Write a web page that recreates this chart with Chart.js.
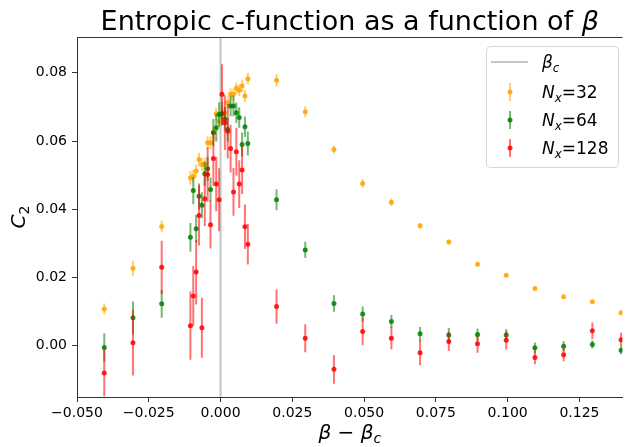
<!DOCTYPE html>
<html lang="en">
<head>
  <meta charset="UTF-8">
  <title>Entropic c-function as a function of beta</title>
  <script src="https://cdn.jsdelivr.net/npm/chart.js"></script>
  <style>
    body {
      margin: 0;
      padding: 0;
      background: #fff;
    }
    #wrap {
      width: 625px;
      height: 447px;
    }
  </style>
</head>
<body>
  <div id="wrap"><canvas id="cfunc" width="625" height="447"></canvas></div>

  <script>
    // beta - beta_c for every measured point
    const dBeta = [-0.0405, -0.0305, -0.0205,
      -0.0105, -0.0095, -0.0085, -0.0075, -0.0065, -0.0055, -0.0045, -0.0035, -0.0025, -0.0015, -0.0005,
      0.0005, 0.0015, 0.0025, 0.0035, 0.0045, 0.0055, 0.0065, 0.0075, 0.0085, 0.0095,
      0.0195, 0.0295, 0.0395, 0.0495, 0.0595, 0.0695, 0.0795, 0.0895, 0.0995, 0.1095, 0.1195, 0.1295, 0.1395];

    const c32 = [0.0108, 0.0227, 0.0350,
      0.0492, 0.0497, 0.0512, 0.0546, 0.0531, 0.0533, 0.0595, 0.0595, 0.0625, 0.0680, 0.0659,
      0.0683, 0.0683, 0.0713, 0.0737, 0.0737, 0.0755, 0.0749, 0.0762, 0.0732, 0.0783,
      0.0778, 0.0686, 0.0575, 0.0476, 0.0421, 0.0352, 0.0304, 0.0239, 0.0207, 0.0168, 0.0144, 0.0129, 0.0097];
    const err32 = [0.0016, 0.0022, 0.0017,
      0.0020, 0.0019, 0.0019, 0.0020, 0.0019, 0.0018, 0.0019, 0.0019, 0.0018, 0.0018, 0.0018,
      0.0018, 0.0018, 0.0018, 0.0018, 0.0017, 0.0017, 0.0017, 0.0018, 0.0018, 0.0017,
      0.0018, 0.0016, 0.0012, 0.0013, 0.0011, 0.0008, 0.0007, 0.0006, 0.0005, 0.0005, 0.0005, 0.0004, 0.0004];

    const c64 = [-0.0005, 0.0082, 0.0123,
      0.0318, 0.0455, 0.0343, 0.0438, 0.0412, 0.0504, 0.0519, 0.0458, 0.0625, 0.0639, 0.0678,
      0.0680, 0.0665, 0.0634, 0.0703, 0.0703, 0.0683, 0.0669, 0.0590, 0.0642, 0.0593,
      0.0428, 0.0281, 0.0124, 0.0093, 0.0071, 0.0035, 0.0032, 0.0033, 0.0032, -0.0006, -0.0001, 0.0004, -0.0013];
    const err64 = [0.0042, 0.0048, 0.0041,
      0.0042, 0.0040, 0.0040, 0.0038, 0.0038, 0.0036, 0.0035, 0.0035, 0.0040, 0.0040, 0.0035,
      0.0035, 0.0035, 0.0035, 0.0030, 0.0030, 0.0030, 0.0030, 0.0035, 0.0030, 0.0035,
      0.0031, 0.0024, 0.0024, 0.0022, 0.0019, 0.0020, 0.0020, 0.0018, 0.0017, 0.0016, 0.0015, 0.0012, 0.0012];

    const c128 = [-0.0080, 0.0009, 0.0230,
      0.0059, 0.0146, 0.0216, 0.0382, 0.0053, 0.0431, 0.0502, 0.0355, 0.0549, 0.0474, 0.0428,
      0.0737, 0.0654, 0.0629, 0.0578, 0.0451, 0.0569, 0.0474, 0.0515, 0.0349, 0.0298,
      0.0115, 0.0022, -0.0069, 0.0042, 0.0022, -0.0020, 0.0013, 0.0006, 0.0016, -0.0034, -0.0026, 0.0044, 0.0018];
    const err128 = [0.0068, 0.0096, 0.0078,
      0.0100, 0.0088, 0.0095, 0.0088, 0.0088, 0.0080, 0.0080, 0.0070, 0.0080, 0.0080, 0.0092,
      0.0088, 0.0080, 0.0080, 0.0070, 0.0070, 0.0070, 0.0070, 0.0070, 0.0065, 0.0060,
      0.0050, 0.0041, 0.0042, 0.0040, 0.0033, 0.0037, 0.0028, 0.0026, 0.0027, 0.0020, 0.0019, 0.0024, 0.0020];

    const betaC = 0;
    const xTicks = [-0.05, -0.025, 0, 0.025, 0.05, 0.075, 0.1, 0.125];
    const yTicks = [0, 0.02, 0.04, 0.06, 0.08];

    const FONT = "'DejaVu Sans', sans-serif";

    // draws a run of text pieces, some italic, some as subscripts
    const richWidth = (ctx, parts, size) => {
      let w = 0;
      parts.forEach((p) => {
        const s = p.sub ? size * 0.7 : size;
        ctx.font = (p.it ? "italic " : "") + s + "px " + FONT;
        w += ctx.measureText(p.t).width;
      });
      return w;
    };

    const drawRich = (ctx, parts, x, y, size, align) => {
      let cx = x;
      if (align === "center") cx = x - richWidth(ctx, parts, size) / 2;
      ctx.textBaseline = "alphabetic";
      ctx.textAlign = "left";
      parts.forEach((p) => {
        const s = p.sub ? size * 0.7 : size;
        ctx.font = (p.it ? "italic " : "") + s + "px " + FONT;
        ctx.fillText(p.t, cx, p.sub ? y + size * 0.22 : y);
        cx += ctx.measureText(p.t).width;
      });
    };

    const errorBars = {
      id: "errorBars",
      beforeDatasetDraw(chart, args) {
        const ds = chart.data.datasets[args.index];
        if (!ds.err) return;
        const { ctx, chartArea } = chart;
        const y = chart.scales.y;
        ctx.save();
        ctx.beginPath();
        ctx.rect(chartArea.left, chartArea.top, chartArea.right - chartArea.left, chartArea.bottom - chartArea.top);
        ctx.clip();
        ctx.strokeStyle = ds.barColor;
        ctx.lineWidth = 2;
        args.meta.data.forEach((pt, i) => {
          const v = ds.data[i].y;
          ctx.beginPath();
          ctx.moveTo(pt.x, y.getPixelForValue(v - ds.err[i]));
          ctx.lineTo(pt.x, y.getPixelForValue(v + ds.err[i]));
          ctx.stroke();
        });
        ctx.restore();
      },
    };

    const decorations = {
      id: "decorations",
      beforeDatasetsDraw(chart) {
        const { ctx, chartArea } = chart;
        const px = chart.scales.x.getPixelForValue(betaC);
        ctx.save();
        ctx.strokeStyle = "rgba(128,128,128,0.45)";
        ctx.lineWidth = 2;
        ctx.beginPath();
        ctx.moveTo(px, chartArea.top);
        ctx.lineTo(px, chartArea.bottom);
        ctx.stroke();
        ctx.restore();
      },
      afterDraw(chart) {
        const { ctx, chartArea } = chart;
        ctx.save();
        // top spine
        ctx.strokeStyle = "#333";
        ctx.lineWidth = 1;
        ctx.beginPath();
        ctx.moveTo(chartArea.left, chartArea.top + 0.5);
        ctx.lineTo(chartArea.right, chartArea.top + 0.5);
        ctx.stroke();

        ctx.fillStyle = "#000";
        const mid = (chartArea.left + chartArea.right) / 2;
        drawRich(ctx, [{ t: "Entropic c-function as a function of " }, { t: "β", it: true }], mid, 30, 27, "center");
        drawRich(ctx, [{ t: "β", it: true }, { t: " − " }, { t: "β", it: true }, { t: "c", it: true, sub: true }], mid, 439, 20, "center");

        ctx.save();
        ctx.translate(25, (chartArea.top + chartArea.bottom) / 2);
        ctx.rotate(-Math.PI / 2);
        drawRich(ctx, [{ t: "C", it: true }, { t: "2", sub: true }], 0, 0, 20, "center");
        ctx.restore();

        // legend
        const lx = 486, ly = 46, lw = 132, lh = 121;
        ctx.fillStyle = "rgba(255,255,255,0.85)";
        ctx.strokeStyle = "#d6d6d6";
        ctx.beginPath();
        ctx.roundRect(lx + 0.5, ly + 0.5, lw, lh, 4);
        ctx.fill();
        ctx.stroke();

        ctx.strokeStyle = "rgba(128,128,128,0.45)";
        ctx.lineWidth = 2;
        ctx.beginPath();
        ctx.moveTo(lx + 5, 62);
        ctx.lineTo(lx + 42, 62);
        ctx.stroke();
        ctx.fillStyle = "#000";
        drawRich(ctx, [{ t: "β", it: true }, { t: "c", it: true, sub: true }], lx + 56, 68, 17, "left");

        chart.data.datasets.slice().reverse().forEach((ds, k) => {
          const cy = 92 + k * 28;
          ctx.strokeStyle = ds.barColor;
          ctx.lineWidth = 2;
          ctx.beginPath();
          ctx.moveTo(lx + 24, cy - 9);
          ctx.lineTo(lx + 24, cy + 9);
          ctx.stroke();
          ctx.fillStyle = ds.backgroundColor;
          ctx.beginPath();
          ctx.arc(lx + 24, cy, 2.5, 0, Math.PI * 2);
          ctx.fill();
          ctx.fillStyle = "#000";
          drawRich(ctx, [{ t: "N", it: true }, { t: "x", it: true, sub: true }, { t: "=" + ds.label }], lx + 56, cy + 6, 17, "left");
        });
        ctx.restore();
      },
    };

    const series = (vals) => dBeta.map((x, i) => ({ x, y: vals[i] }));

    const axisCommon = {
      border: { display: true, color: "#333", width: 1 },
      grid: { display: true, drawOnChartArea: false, drawTicks: true, tickLength: 5, color: "#333" },
    };

    new Chart(document.getElementById("cfunc"), {
      type: "scatter",
      data: {
        datasets: [
          { label: "128", data: series(c128), err: err128, order: 1,
            backgroundColor: "rgba(255,0,0,0.85)", barColor: "rgba(255,0,0,0.55)" },
          { label: "64", data: series(c64), err: err64, order: 2,
            backgroundColor: "rgba(0,128,0,0.85)", barColor: "rgba(0,128,0,0.55)" },
          { label: "32", data: series(c32), err: err32, order: 3,
            backgroundColor: "rgba(255,165,0,0.85)", barColor: "rgba(255,165,0,0.55)" },
        ],
      },
      options: {
        responsive: false,
        animation: false,
        devicePixelRatio: 1,
        layout: { padding: { top: 37, right: 0, left: 0, bottom: 0 } },
        elements: { point: { radius: 2.5, borderWidth: 0, hoverRadius: 2.5 } },
        plugins: { legend: { display: false }, tooltip: { enabled: false } },
        scales: {
          x: {
            ...axisCommon,
            min: -0.05,
            max: 0.14,
            afterBuildTicks: (s) => { s.ticks = xTicks.map((v) => ({ value: v })); },
            afterFit: (s) => { s.height = 50; },
            ticks: {
              color: "#000",
              padding: 3,
              maxRotation: 0,
              font: { family: FONT, size: 14 },
              callback: (v) => Number(v).toFixed(3).replace("-", "\u2212"),
            },
          },
          y: {
            ...axisCommon,
            min: -0.015,
            max: 0.0905,
            afterBuildTicks: (s) => { s.ticks = yTicks.map((v) => ({ value: v })); },
            afterFit: (s) => { s.width = 77; },
            ticks: {
              color: "#000",
              padding: 5,
              font: { family: FONT, size: 14 },
              callback: (v) => Number(v).toFixed(2),
            },
          },
        },
      },
      plugins: [errorBars, decorations],
    });
  </script>
</body>
</html>
